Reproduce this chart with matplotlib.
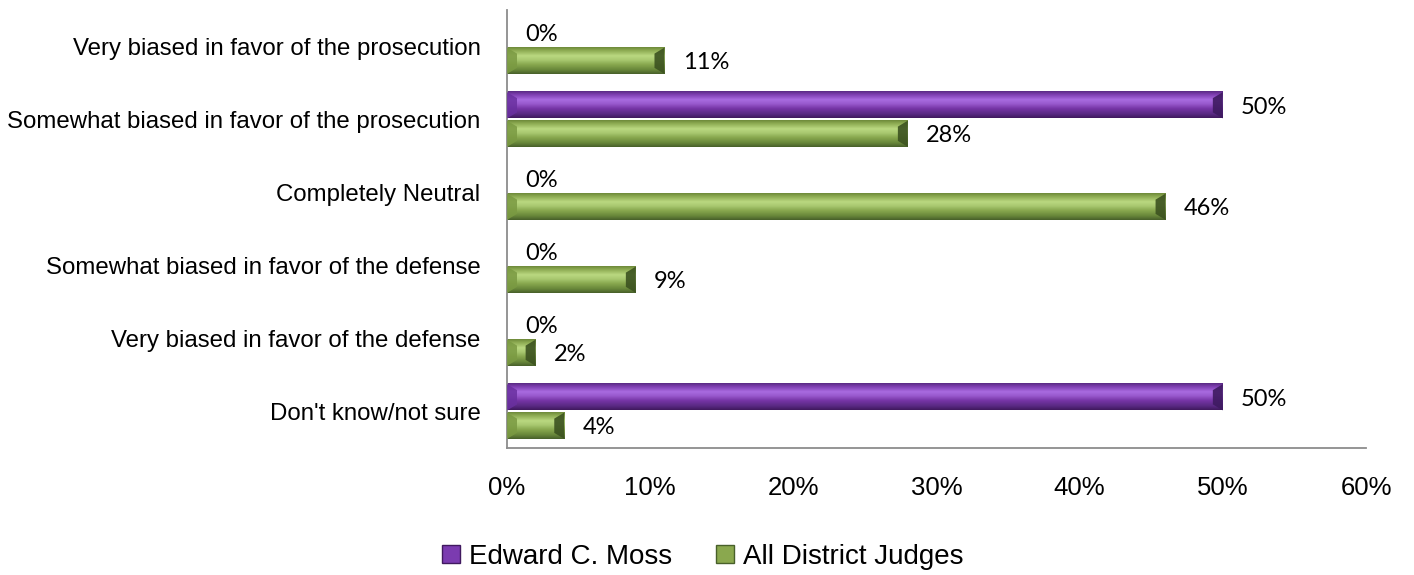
import numpy as np
import matplotlib
matplotlib.use("Agg")
import matplotlib.pyplot as plt
from matplotlib.colors import LinearSegmentedColormap
from matplotlib.patches import Polygon, Patch

plt.rcParams["font.family"] = ["Liberation Sans", "DejaVu Sans"]

categories = [
    "Very biased in favor of the prosecution",
    "Somewhat biased in favor of the prosecution",
    "Completely Neutral",
    "Somewhat biased in favor of the defense",
    "Very biased in favor of the defense",
    "Don't know/not sure",
]
series_names = ["Edward C. Moss", "All District Judges"]
moss = [0, 50, 0, 0, 0, 50]
all_judges = [11, 28, 46, 9, 2, 4]
xticks = [0, 10, 20, 30, 40, 50, 60]

W, H = 1414, 575
fig = plt.figure(figsize=(W / 100, H / 100), dpi=100)
ax = fig.add_axes([507 / W, 1 - 448 / H, (1366 - 507) / W, (448 - 10) / H])

grad = {
    "purple": LinearSegmentedColormap.from_list("p", [
        (0.0, "#5a2a84"), (0.12, "#7d3eb0"), (0.32, "#a96be0"),
        (0.48, "#9858cc"), (0.65, "#7635a6"), (0.85, "#5a2a84"), (1.0, "#40195f")]),
    "green": LinearSegmentedColormap.from_list("g", [
        (0.0, "#6e8a3a"), (0.12, "#8dab52"), (0.32, "#bad880"),
        (0.48, "#a8c870"), (0.65, "#88a84e"), (0.85, "#68873a"), (1.0, "#48602a")]),
}
ends = {"purple": ("#6a30a0", "#3e1a60"), "green": ("#7a9a42", "#3c5220")}
base = {"purple": "#7b3bb0", "green": "#8aa84e"}

bh = 0.36
off = 0.195
px_x = 60 / (1366 - 507)
px_y = 1 / ((448 - 10) / 6)
bx = 10 * px_x
by = 6 * px_y

gimg = np.linspace(0, 1, 64).reshape(-1, 1)


def bevel_bar(y, w, key):
    if w <= 0:
        return
    ytop, ybot = y - bh / 2, y + bh / 2
    ax.imshow(gimg, cmap=grad[key], aspect="auto", interpolation="bilinear",
              extent=[0, w, ybot, ytop], zorder=2)
    b = min(bx, w / 2.5)
    lc, rc = ends[key]
    ax.add_patch(Polygon([(0, ytop), (b, ytop + by), (b, ybot - by), (0, ybot)],
                         closed=True, facecolor=lc, edgecolor="none", zorder=3, alpha=0.85))
    ax.add_patch(Polygon([(w, ytop), (w - b, ytop + by), (w - b, ybot - by), (w, ybot)],
                         closed=True, facecolor=rc, edgecolor="none", zorder=3, alpha=0.9))


ys = np.arange(len(categories))
for i, (m, a) in enumerate(zip(moss, all_judges)):
    bevel_bar(ys[i] - off, m, "purple")
    bevel_bar(ys[i] + off, a, "green")
    for v, yy in ((m, ys[i] - off), (a, ys[i] + off)):
        ax.annotate(f"{v}%", xy=(v, yy + 0.03), xytext=(13, 0), textcoords="offset points",
                    ha="left", va="center", fontsize=17, fontfamily="Lato", color="#000000")

ax.set_xlim(0, 60)
ax.set_ylim(5.5, -0.5)
ax.set_xticks(xticks)
ax.set_xticklabels([f"{t}%" for t in xticks], fontsize=18.5)
ax.set_yticks(ys)
ax.set_yticklabels(categories, fontsize=17.3)
ax.tick_params(axis="x", length=0, pad=20)
ax.tick_params(axis="y", length=0, pad=19)
for s in ("top", "right"):
    ax.spines[s].set_visible(False)
for s in ("left", "bottom"):
    ax.spines[s].set_color("#8c8c8c")
    ax.spines[s].set_linewidth(1.3)

handles = [Patch(facecolor=base["purple"], edgecolor="#40195f"),
           Patch(facecolor=base["green"], edgecolor="#48602a")]
fig.legend(handles, series_names, loc="center", bbox_to_anchor=(0.497, 0.032), ncol=2,
           frameon=False, prop={"family": "Liberation Sans", "size": 20},
           handlelength=0.65, handleheight=0.65, handletextpad=0.3, columnspacing=1.6)

fig.savefig("out.png", dpi=100)
